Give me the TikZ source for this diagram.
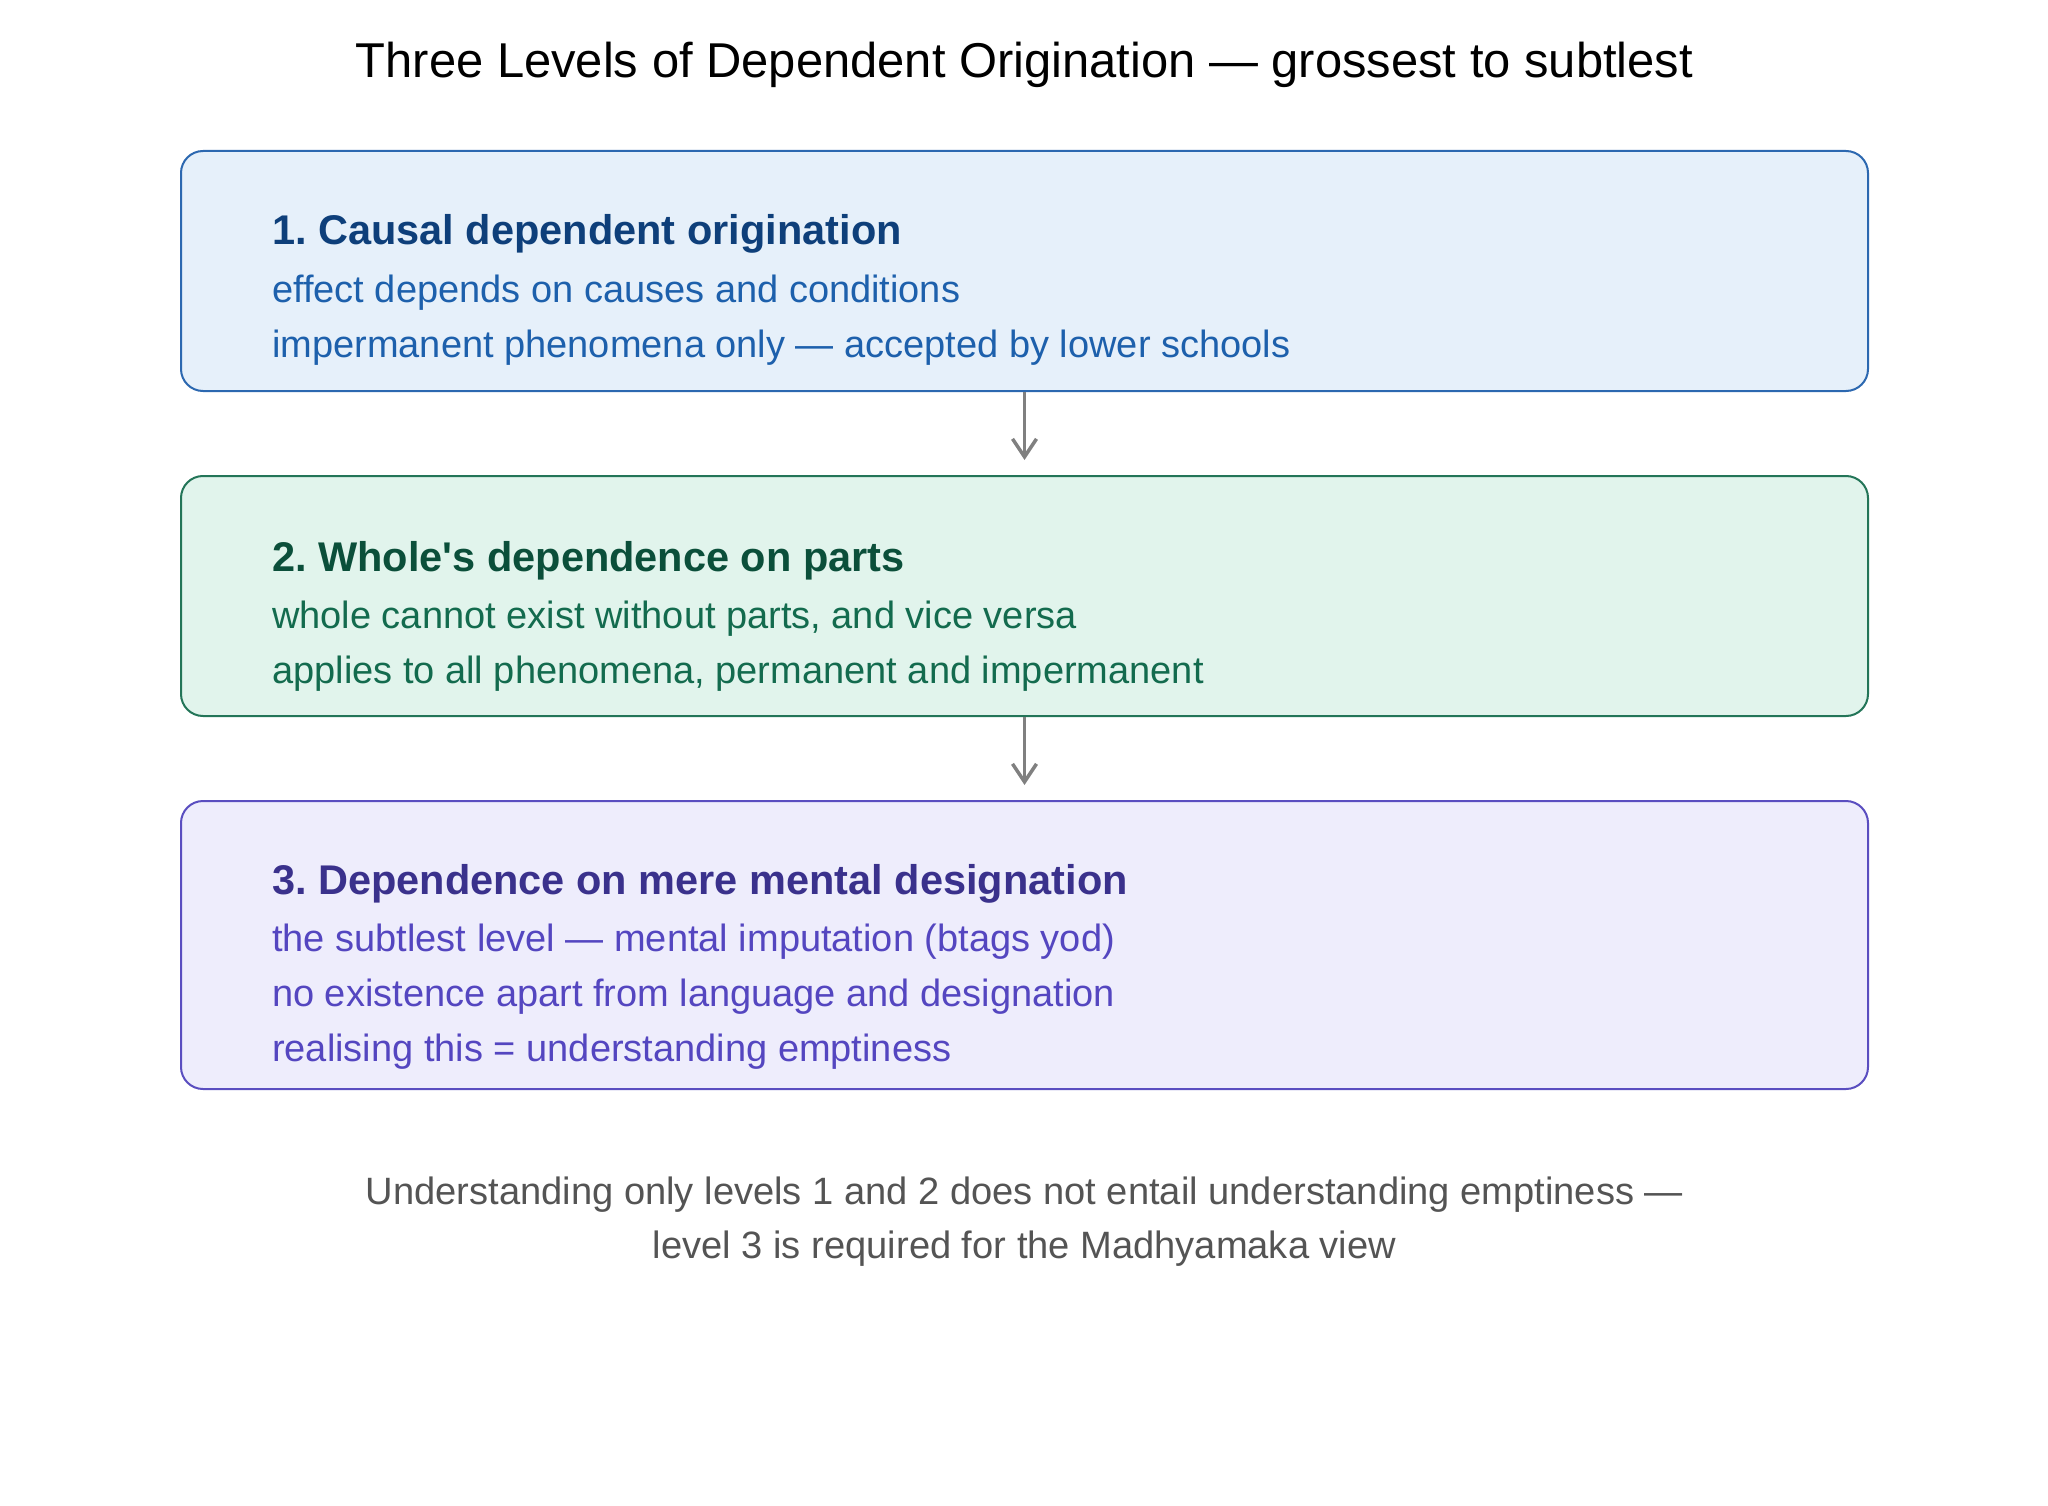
\documentclass[tikz,border=0pt]{standalone}
\usepackage{fontspec}
\setmainfont{Liberation Sans}[Ligatures=TeXOff]
\usetikzlibrary{positioning,arrows.meta}
\definecolor{fillA}{HTML}{E6F0FA}
\definecolor{lineA}{HTML}{2C68B0}
\definecolor{headA}{HTML}{0E3F7A}
\definecolor{textA}{HTML}{1D60AC}
\definecolor{fillB}{HTML}{E1F4EC}
\definecolor{lineB}{HTML}{237558}
\definecolor{headB}{HTML}{0B4F3A}
\definecolor{textB}{HTML}{136B4E}
\definecolor{fillC}{HTML}{EEEDFC}
\definecolor{lineC}{HTML}{5A4EC0}
\definecolor{headC}{HTML}{3A318C}
\definecolor{textC}{HTML}{5446C0}
\definecolor{arrowgray}{HTML}{808080}
\tikzstyle{levelbox}=[draw, rounded corners=22pt, line width=2pt, minimum width=1687pt, inner sep=0pt]
\tikzstyle{head}=[anchor=base west, inner sep=0pt, font=\fontsize{41.5}{50}\selectfont\bfseries]
\tikzstyle{body}=[anchor=base west, inner sep=0pt, font=\fontsize{38}{55}\selectfont]
\tikzstyle{flow}=[-{Straight Barb[length=18pt, width=24pt]}, line width=3.5pt, arrowgray]
\frenchspacing

\begin{document}
\begin{tikzpicture}[x=1pt, y=1pt]
    \useasboundingbox (0,0) rectangle (2048,-1506);

    \node   [levelbox, fill=fillA, draw=lineA, minimum height=240pt, anchor=north west]   (L1)  at (180,-150) {};
    \node   [levelbox, fill=fillB, draw=lineB, minimum height=240pt]   (L2)  [below=83pt of L1] {};
    \node   [levelbox, fill=fillC, draw=lineC, minimum height=288pt]   (L3)  [below=83pt of L2] {};

    \node   [anchor=base, inner sep=0pt, font=\fontsize{48.9}{58}\selectfont]   (T)  at ([yshift=72pt]L1.north) {Three Levels of Dependent Origination — grossest to subtlest};

    \node   [head, text=headA]   (H1)  at ([shift={(92pt,-95pt)}]L1.north west) {1. Causal dependent origination};
    \node   [body, text=textA]   (A1)  at ([yshift=-57pt]H1.base west) {effect depends on causes and conditions};
    \node   [body, text=textA]   (A2)  at ([yshift=-55pt]A1.base west) {impermanent phenomena only — accepted by lower schools};

    \node   [head, text=headB]   (H2)  at ([shift={(92pt,-96pt)}]L2.north west) {2. Whole's dependence on parts};
    \node   [body, text=textB]   (B1)  at ([yshift=-57pt]H2.base west) {whole cannot exist without parts, and vice versa};
    \node   [body, text=textB]   (B2)  at ([yshift=-55pt]B1.base west) {applies to all phenomena, permanent and impermanent};

    \node   [head, text=headC]   (H3)  at ([shift={(92pt,-94pt)}]L3.north west) {3. Dependence on mere mental designation};
    \node   [body, text=textC]   (C1)  at ([yshift=-57pt]H3.base west) {the subtlest level — mental imputation (btags yod)};
    \node   [body, text=textC]   (C2)  at ([yshift=-55pt]C1.base west) {no existence apart from language and designation};
    \node   [body, text=textC]   (C3)  at ([yshift=-55pt]C2.base west) {realising this = understanding emptiness};

    \node   [anchor=base, inner sep=0pt, text=black!67, font=\fontsize{38.1}{55}\selectfont]   (F1)  at ([yshift=-114pt]L3.south) {Understanding only levels 1 and 2 does not entail understanding emptiness —};
    \node   [anchor=base, inner sep=0pt, text=black!67, font=\fontsize{38.1}{55}\selectfont]   (F2)  at ([yshift=-54pt]F1.base) {level 3 is required for the Madhyamaka view};

    \draw[flow] (L1.south) -- ([yshift=15pt]L2.north);
    \draw[flow] (L2.south) -- ([yshift=15pt]L3.north);

\end{tikzpicture}
\end{document}
